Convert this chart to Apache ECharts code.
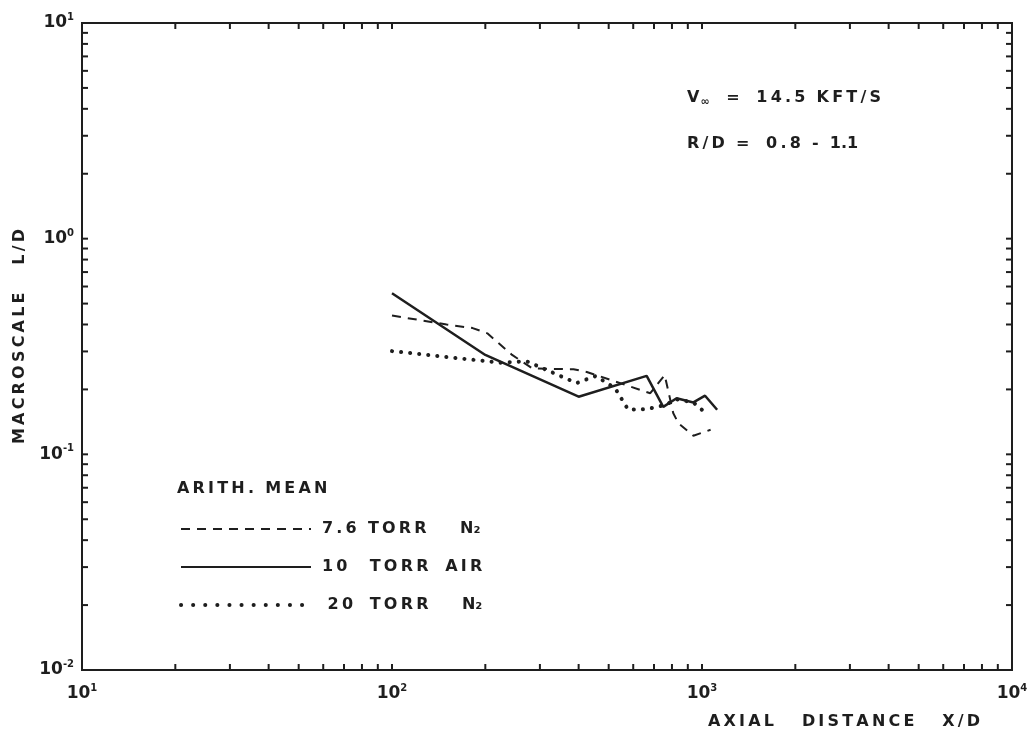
<!DOCTYPE html>
<html><head><meta charset="utf-8">
<script src="https://cdn.jsdelivr.net/npm/echarts@6/dist/echarts.min.js"></script>
<style>html,body{margin:0;padding:0;background:#fff}#c{width:1032px;height:742px}</style>
</head><body><div id="c"></div>
<script>
// Data
var dashedX = [100, 150, 182, 203, 244, 284, 385, 425, 681, 758, 808, 840, 938, 1066];
var dashedY = [0.44, 0.40, 0.385, 0.364, 0.289, 0.25, 0.248, 0.241, 0.192, 0.233, 0.155, 0.139, 0.122, 0.130];
var solidX = [100, 200, 400, 663, 750, 828, 938, 1023, 1119];
var solidY = [0.558, 0.289, 0.185, 0.231, 0.166, 0.182, 0.174, 0.187, 0.161];
var dottedX = [100, 223, 272, 394, 455, 525, 578, 663, 758, 828, 938, 1035];
var dottedY = [0.301, 0.266, 0.27, 0.214, 0.231, 0.202, 0.161, 0.162, 0.169, 0.18, 0.174, 0.154];
var seriesNames = ['7.6 TORR N\u2082', '10 TORR AIR', '20 TORR N\u2082'];
var xTickValues = [10,20,30,40,50,60,70,80,90,100,200,300,400,500,600,700,800,900,1000,2000,3000,4000,5000,6000,7000,8000,9000,10000];
var yTickValues = [0.01,0.02,0.03,0.04,0.05,0.06,0.07,0.08,0.09,0.1,0.2,0.3,0.4,0.5,0.6,0.7,0.8,0.9,1,2,3,4,5,6,7,8,9,10];

function zip(a, b) { return a.map(function (v, i) { return [v, b[i]]; }); }
// spread letters a little (lettering style of the original)
function sp(s, gap) {
  return s.split(' ').map(function (w) { return w.split('').join('\u2009'); }).join(gap === undefined ? '   ' : gap);
}

var INK = '#1e1e1e';
var FONT = 'DejaVu Sans';
var chart = echarts.init(document.getElementById('c'));

function expLabel(v) {
  var e = Math.round(Math.log10(v));
  return '{b|10}{s|' + e + '}';
}
var richLbl = {
  b: { fontSize: 17, fontFamily: FONT, fontWeight: 'bold', color: INK },
  s: { fontSize: 10, fontFamily: FONT, color: INK, fontWeight: 'bold', padding: [0, 0, 11, 0] }
};

function tickRender(isX) {
  return function (params, api) {
    var v = api.value(isX ? 0 : 1);
    var L = 6, lines = [];
    if (isX) {
      var b = api.coord([v, 0.01]), t = api.coord([v, 10]);
      lines.push([b[0], b[1], b[0], b[1] - L], [t[0], t[1], t[0], t[1] + L]);
    } else {
      var l = api.coord([10, v]), r = api.coord([10000, v]);
      lines.push([l[0], l[1], l[0] + L, l[1]], [r[0], r[1], r[0] - L, r[1]]);
    }
    return {
      type: 'group',
      children: lines.map(function (p) {
        return { type: 'line', shape: { x1: p[0], y1: p[1], x2: p[2], y2: p[3] },
          style: { stroke: INK, lineWidth: 2 } };
      })
    };
  };
}

var TF = 'bold 16px "DejaVu Sans"';
var legendLabels = {};
legendLabels[seriesNames[0]] = sp('7.6', '') + '  ' + sp('TORR', '') + '      N\u2082';
legendLabels[seriesNames[1]] = sp('10', '') + '    ' + sp('TORR', '') + '   ' + sp('AIR', '');
legendLabels[seriesNames[2]] = ' ' + sp('20', '') + '   ' + sp('TORR', '') + '      N\u2082';

chart.setOption({
  animation: false,
  backgroundColor: '#fff',
  grid: { left: 82, right: 20, top: 23, bottom: 72, show: true, borderColor: INK, borderWidth: 2, backgroundColor: 'transparent' },
  xAxis: {
    type: 'log', logBase: 10, min: 10, max: 10000,
    axisLine: { show: true, lineStyle: { color: INK, width: 2 } },
    axisTick: { show: false },
    splitLine: { show: false },
    axisLabel: { formatter: expLabel, rich: richLbl, margin: 13 }
  },
  yAxis: {
    type: 'log', logBase: 10, min: 0.01, max: 10,
    axisLine: { show: true, lineStyle: { color: INK, width: 2 } },
    axisTick: { show: false },
    splitLine: { show: false },
    axisLabel: { formatter: expLabel, rich: richLbl, margin: 8 },
    name: sp('MACROSCALE L/D', '     '), nameLocation: 'middle', nameGap: 52, nameRotate: 90,
    nameTextStyle: { fontSize: 16, fontFamily: FONT, fontWeight: 'bold', color: INK, padding: [0, 0, 0, 20] }
  },
  legend: {
    orient: 'vertical', left: 174, top: 516, itemWidth: 130, itemHeight: 14, itemGap: 22,
    data: [
      { name: seriesNames[0] },
      { name: seriesNames[1] },
      { name: seriesNames[2], lineStyle: { width: 4, type: [0.1, 12], cap: 'round' } }
    ],
    itemStyle: { opacity: 0 },
    formatter: function (n) { return legendLabels[n]; },
    textStyle: { fontSize: 16, fontFamily: FONT, fontWeight: 'bold', color: INK, padding: [0, 0, 0, 6] }
  },
  graphic: [
    { type: 'text', left: 177, top: 481, style: { text: sp('ARITH.', '') + '  ' + sp('MEAN', ''), font: TF, fill: INK } },
    { type: 'text', left: 687, top: 90, style: {
      text: '{a|V}{s|\u221e}{a|   =   ' + sp('14.5', '') + '  ' + sp('KFT/S', '') + '}',
      rich: { a: { font: TF, fill: INK }, s: { font: 'bold 11px "DejaVu Sans"', fill: INK, padding: [8, 0, 0, 1] } } } },
    { type: 'text', left: 687, top: 136, style: { text: sp('R/D', '') + '  =   ' + sp('0.8', '') + '  -  ' + '1.1', font: TF, fill: INK } },
    { type: 'text', left: 708, top: 714, style: { text: sp('AXIAL DISTANCE X/D', '     '), font: TF, fill: INK } }
  ],
  series: [
    { name: seriesNames[0], type: 'line', data: zip(dashedX, dashedY), symbol: 'none', color: INK,
      lineStyle: { color: INK, width: 2, type: [9, 7] } },
    { name: seriesNames[1], type: 'line', data: zip(solidX, solidY), symbol: 'none', color: INK,
      lineStyle: { color: INK, width: 2.5 } },
    { name: seriesNames[2], type: 'line', data: zip(dottedX, dottedY), symbol: 'none', color: INK,
      lineStyle: { color: INK, width: 4, type: [0.1, 9], cap: 'round' } },
    { type: 'custom', renderItem: tickRender(true), data: xTickValues.map(function (v) { return [v, 1]; }), silent: true, clip: false, legendHoverLink: false },
    { type: 'custom', renderItem: tickRender(false), data: yTickValues.map(function (v) { return [100, v]; }), silent: true, clip: false, legendHoverLink: false }
  ]
});
</script></body></html>
